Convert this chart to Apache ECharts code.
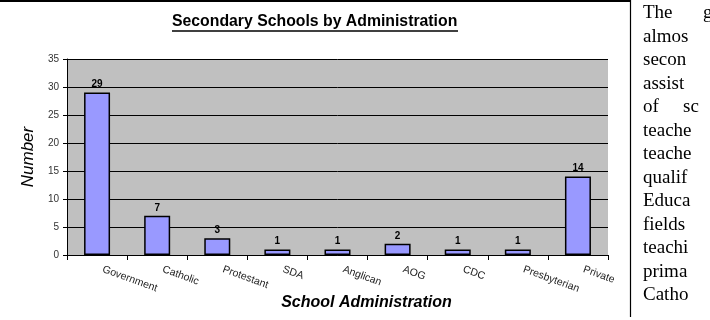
<!DOCTYPE html>
<html>
<head>
<meta charset="utf-8">
<script src="https://cdn.jsdelivr.net/npm/echarts@6/dist/echarts.min.js"></script>
<style>
html,body{margin:0;padding:0;background:#fff;}
#c{width:710px;height:320px;}
</style>
</head>
<body>
<div id="c"></div>
<script>
const categories = ['Government','Catholic','Protestant','SDA','Anglican','AOG','CDC','Presbyterian','Private'];
const values = [29, 7, 3, 1, 1, 2, 1, 1, 14];
const yTicks = [0, 5, 10, 15, 20, 25, 30, 35];
const sideLines = ['The', 'almos', 'secon', 'assist', 'of', 'teache', 'teache', 'qualif', 'Educa', 'fields', 'teachi', 'prima', 'Catho'];
const sideTails = {0: 'g', 4: 'sc'};

const chart = echarts.init(document.getElementById('c'), null, {renderer: 'canvas'});

const graphics = [
  {type: 'line', shape: {x1: 0, y1: 1, x2: 631, y2: 1}, style: {stroke: '#000', lineWidth: 2}},
  {type: 'line', shape: {x1: 630.5, y1: 0, x2: 630.5, y2: 317}, style: {stroke: '#000', lineWidth: 1.2}},
  {type: 'text', left: 172, top: 14, style: {text: 'Secondary Schools by Administration', font: 'bold 15.8px "Liberation Sans", Arial, sans-serif', fill: '#000'}},
  {type: 'line', shape: {x1: 172, y1: 31, x2: 458, y2: 31}, style: {stroke: '#000', lineWidth: 1.3}}
];
sideLines.forEach((t, i) => {
  graphics.push({type: 'text', left: 643, top: 4 + i * 23.5, style: {text: t, font: '19px "Liberation Serif", "Times New Roman", serif', fill: '#000'}});
  if (sideTails[i]) {
    graphics.push({type: 'text', left: i === 0 ? 703 : 683, top: 4 + i * 23.5, style: {text: sideTails[i], font: '19px "Liberation Serif", "Times New Roman", serif', fill: '#000'}});
  }
});

chart.setOption({
  animation: false,
  textStyle: {fontFamily: '"Liberation Sans", Arial, sans-serif'},
  grid: {left: 67, right: 102, top: 59, bottom: 65, show: true, backgroundColor: '#C0C0C0', borderWidth: 0, containLabel: false, outerBoundsMode: 'none'},
  xAxis: {
    type: 'category',
    data: categories,
    name: 'School Administration',
    nameLocation: 'middle',
    nameGap: 40,
    nameMoveOverlap: false,
    nameTextStyle: {fontSize: 16, fontStyle: 'italic', fontWeight: 'bold', color: '#000', padding: [0, 0, 0, 58]},
    axisLine: {lineStyle: {color: '#000', width: 1}},
    axisTick: {show: true, alignWithLabel: false, length: 5, lineStyle: {color: '#000'}},
    axisLabel: {rotate: -20, fontSize: 10.5, color: '#222', margin: 12, interval: 0, padding: [0, 0, 0, 6]}
  },
  yAxis: {
    type: 'value',
    min: yTicks[0],
    max: yTicks[yTicks.length - 1],
    interval: 5,
    name: 'Number',
    nameLocation: 'middle',
    nameGap: 30,
    nameMoveOverlap: false,
    nameTextStyle: {fontSize: 17, fontStyle: 'italic', color: '#000'},
    axisLine: {show: true, lineStyle: {color: '#000', width: 1}},
    axisTick: {show: true, length: 4, lineStyle: {color: '#000'}},
    axisLabel: {fontSize: 10, color: '#333', margin: 8},
    splitLine: {show: true, lineStyle: {color: '#000', width: 1}}
  },
  series: [{
    type: 'bar',
    data: values,
    barWidth: 26,
    itemStyle: {color: '#9999FF', borderColor: '#000', borderWidth: 1.5},
    label: {show: true, position: 'top', distance: 3, fontSize: 10, fontWeight: 'bold', color: '#000'}
  }],
  graphic: graphics
});
</script>
</body>
</html>
